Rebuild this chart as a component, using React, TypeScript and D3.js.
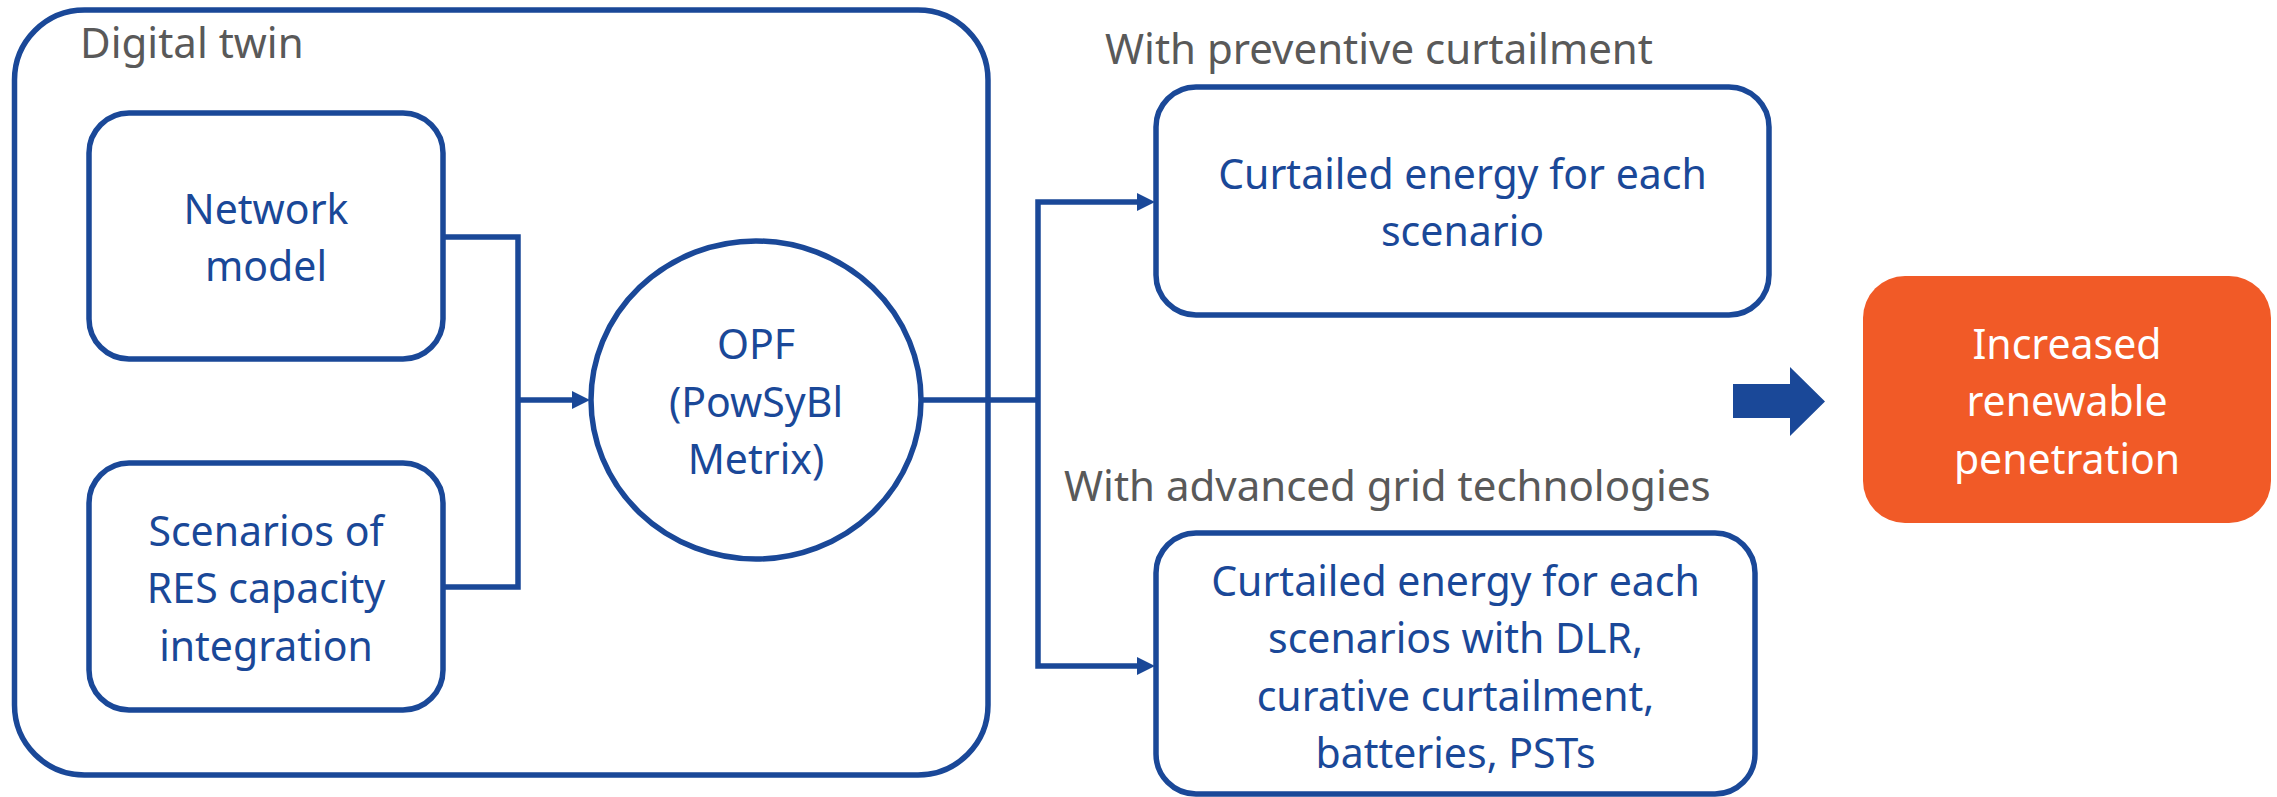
import React, { useRef, useEffect } from "react";
import * as d3 from "d3";

const W = 2277;
const H = 797;

// labels
const groupTitle = "Digital twin";
const inputNetwork = ["Network", "model"];
const inputScenarios = ["Scenarios of", "RES capacity", "integration"];
const opfLabel = ["OPF", "(PowSyBl", "Metrix)"];
const branchTitles = ["With preventive curtailment", "With advanced grid technologies"];
const outPreventive = ["Curtailed energy for each", "scenario"];
const outAdvanced = [
  "Curtailed energy for each",
  "scenarios with DLR,",
  "curative curtailment,",
  "batteries, PSTs",
];
const resultLabel = ["Increased", "renewable", "penetration"];

const BLUE = "#1a4898";
const GREY = "#595959";
const ORANGE = "#f15a27";
const FONT = "'Noto Sans', 'Open Sans', sans-serif";

const App = () => {
  const svgRef = useRef<SVGSVGElement>(null);

  useEffect(() => {
    const svg = d3.select(svgRef.current);
    svg.selectAll("*").remove();

    const sw = 5.5;
    const fs = 41;
    const fsTitle = 42;
    const lineH = 57.5;
    const offs = 16.5;

    // multi-line centered text
    const label = (lines: string[], cx: number, cy: number, color: string) => {
      const n = lines.length;
      const t = svg
        .append("text")
        .attr("text-anchor", "middle")
        .attr("font-family", FONT)
        .attr("font-size", fs)
        .attr("fill", color);
      lines.forEach((l, i) => {
        t.append("tspan")
          .attr("x", cx)
          .attr("y", cy + offs + (i - (n - 1) / 2) * lineH)
          .text(l);
      });
    };

    const title = (s: string, x: number, y: number) =>
      svg
        .append("text")
        .attr("x", x)
        .attr("y", y)
        .attr("font-family", FONT)
        .attr("font-size", fsTitle)
        .attr("fill", GREY)
        .text(s);

    const box = (x0: number, y0: number, x1: number, y1: number, r: number) =>
      svg
        .append("rect")
        .attr("x", x0)
        .attr("y", y0)
        .attr("width", x1 - x0)
        .attr("height", y1 - y0)
        .attr("rx", r)
        .attr("ry", r)
        .attr("fill", "none")
        .attr("stroke", BLUE)
        .attr("stroke-width", sw);

    const line = d3
      .line<[number, number]>()
      .x((d) => d[0])
      .y((d) => d[1]);

    const wire = (pts: [number, number][]) =>
      svg
        .append("path")
        .attr("d", line(pts))
        .attr("fill", "none")
        .attr("stroke", BLUE)
        .attr("stroke-width", sw)
        .attr("stroke-linejoin", "miter");

    const head = (x: number, y: number) =>
      svg
        .append("path")
        .attr(
          "d",
          line([
            [x, y],
            [x - 18, y - 9],
            [x - 18, y + 9],
          ]) + "Z"
        )
        .attr("fill", BLUE);

    // digital twin group
    box(14.5, 10, 988, 775, 70);
    title(groupTitle, 80, 58);

    // input boxes
    const nb = { x0: 89, y0: 113, x1: 443, y1: 359 };
    const sb = { x0: 89, y0: 463, x1: 443, y1: 710 };
    box(nb.x0, nb.y0, nb.x1, nb.y1, 40);
    box(sb.x0, sb.y0, sb.x1, sb.y1, 40);
    label(inputNetwork, (nb.x0 + nb.x1) / 2, (nb.y0 + nb.y1) / 2, BLUE);
    label(inputScenarios, (sb.x0 + sb.x1) / 2, (sb.y0 + sb.y1) / 2, BLUE);

    // OPF node
    const oc = { cx: 756, cy: 400, rx: 165, ry: 159 };
    svg
      .append("ellipse")
      .attr("cx", oc.cx)
      .attr("cy", oc.cy)
      .attr("rx", oc.rx)
      .attr("ry", oc.ry)
      .attr("fill", "none")
      .attr("stroke", BLUE)
      .attr("stroke-width", sw);
    label(opfLabel, oc.cx, oc.cy, BLUE);

    // inputs -> OPF
    const jx = 518;
    wire([
      [nb.x1, 237],
      [jx, 237],
      [jx, 587],
      [sb.x1, 587],
    ]);
    wire([
      [jx, oc.cy],
      [oc.cx - oc.rx - 16, oc.cy],
    ]);
    head(oc.cx - oc.rx - 1, oc.cy);

    // outputs
    const b1 = { x0: 1156, y0: 87, x1: 1769, y1: 315 };
    const b2 = { x0: 1156, y0: 533, x1: 1755, y1: 794 };
    box(b1.x0, b1.y0, b1.x1, b1.y1, 40);
    box(b2.x0, b2.y0, b2.x1, b2.y1, 40);
    label(outPreventive, (b1.x0 + b1.x1) / 2, (b1.y0 + b1.y1) / 2, BLUE);
    label(outAdvanced, (b2.x0 + b2.x1) / 2, (b2.y0 + b2.y1) / 2 + 2, BLUE);

    title(branchTitles[0], 1105, 64);
    title(branchTitles[1], 1064, 501);

    // OPF -> outputs
    const bx = 1038;
    const ya = 202;
    const yb = 666;
    wire([
      [oc.cx + oc.rx, oc.cy],
      [bx, oc.cy],
    ]);
    wire([
      [b1.x0 - 16, ya],
      [bx, ya],
      [bx, yb],
      [b2.x0 - 16, yb],
    ]);
    head(b1.x0 - 1, ya);
    head(b2.x0 - 1, yb);

    // block arrow
    svg
      .append("path")
      .attr(
        "d",
        line([
          [1733, 384],
          [1790, 384],
          [1790, 367],
          [1825, 401.5],
          [1790, 436],
          [1790, 418],
          [1733, 418],
        ]) + "Z"
      )
      .attr("fill", BLUE);

    // result
    const rb = { x0: 1863, y0: 276, x1: 2271, y1: 523 };
    svg
      .append("rect")
      .attr("x", rb.x0)
      .attr("y", rb.y0)
      .attr("width", rb.x1 - rb.x0)
      .attr("height", rb.y1 - rb.y0)
      .attr("rx", 42)
      .attr("ry", 42)
      .attr("fill", ORANGE);
    label(resultLabel, (rb.x0 + rb.x1) / 2, (rb.y0 + rb.y1) / 2, "#ffffff");
  }, []);

  return (
    <svg
      ref={svgRef}
      width={W}
      height={H}
      viewBox={`0 0 ${W} ${H}`}
      style={{ position: "absolute", left: 0, top: 0, display: "block", background: "#ffffff" }}
    ></svg>
  );
};

export default App;
